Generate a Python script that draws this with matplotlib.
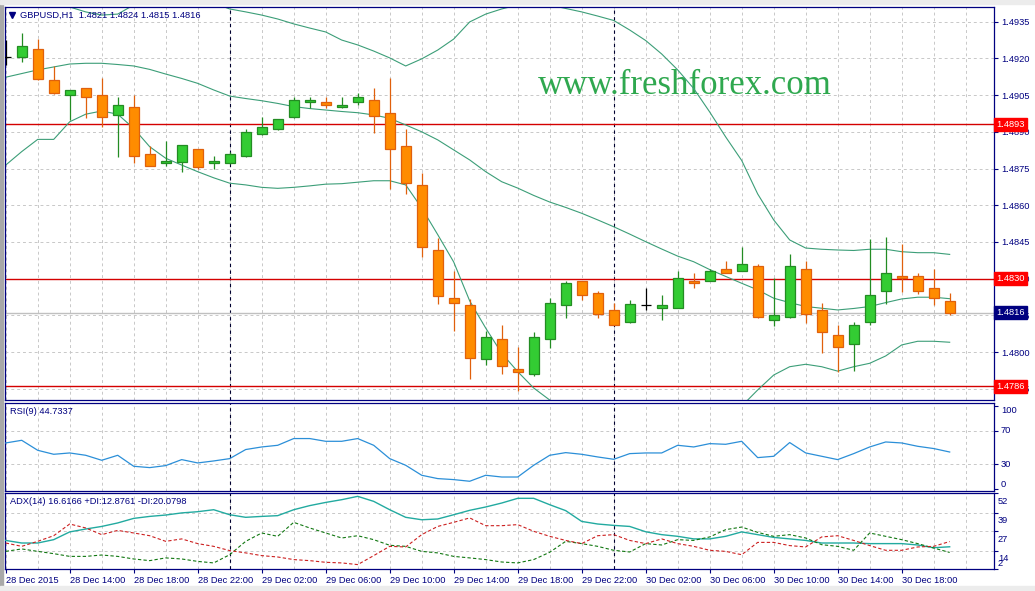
import numpy as np
import matplotlib
matplotlib.use("Agg")
import matplotlib.pyplot as plt
from matplotlib.patches import Rectangle

plt.rcParams['font.family'] = ['Liberation Sans', 'DejaVu Sans']

# ---------------- data ----------------
open_ = [1.49205, 1.49207, 1.49237, 1.49111, 1.49050, 1.49077, 1.49050, 1.48967, 1.49001, 1.48809,
         1.48772, 1.48775, 1.48828, 1.48771, 1.48771, 1.48800, 1.48889, 1.48910, 1.48959, 1.49020,
         1.49020, 1.49000, 1.49020, 1.49028, 1.48978, 1.48840, 1.48681, 1.48419, 1.48219, 1.48191,
         1.47970, 1.48054, 1.47930, 1.47909, 1.48052, 1.48191, 1.48291, 1.48240, 1.48171, 1.48122,
         1.48191, 1.48179, 1.48179, 1.48289, 1.48289, 1.48338, 1.48330, 1.48351, 1.48130, 1.48142,
         1.48338, 1.48171, 1.48069, 1.48032, 1.48122, 1.48249, 1.48310, 1.48310, 1.48261, 1.48210]
high = [1.49275, 1.49302, 1.49280, 1.49169, 1.49069, 1.49079, 1.49121, 1.49042, 1.49050, 1.48844,
        1.48864, 1.48847, 1.48831, 1.48801, 1.48819, 1.48910, 1.48962, 1.48951, 1.49043, 1.49042,
        1.49042, 1.49042, 1.49057, 1.49079, 1.49120, 1.48910, 1.48731, 1.48468, 1.48331, 1.48215,
        1.48088, 1.48112, 1.48022, 1.48081, 1.48221, 1.48291, 1.48292, 1.48249, 1.48201, 1.48212,
        1.48261, 1.48232, 1.48332, 1.48322, 1.48338, 1.48373, 1.48430, 1.48359, 1.48302, 1.48401,
        1.48373, 1.48200, 1.48111, 1.48121, 1.48461, 1.48471, 1.48443, 1.48322, 1.48338, 1.48240]
low = [1.49173, 1.49186, 1.49111, 1.49056, 1.48948, 1.48958, 1.48919, 1.48798, 1.48771, 1.48759,
       1.48761, 1.48735, 1.48749, 1.48749, 1.48770, 1.48798, 1.48888, 1.48908, 1.48957, 1.48998,
       1.48997, 1.48998, 1.49008, 1.48896, 1.48667, 1.48647, 1.48389, 1.48197, 1.48087, 1.47888,
       1.47948, 1.47910, 1.47839, 1.47901, 1.48018, 1.48141, 1.48212, 1.48141, 1.48110, 1.48120,
       1.48171, 1.48130, 1.48178, 1.48261, 1.48289, 1.48321, 1.48330, 1.48141, 1.48107, 1.48141,
       1.48120, 1.47998, 1.47919, 1.47923, 1.48110, 1.48195, 1.48247, 1.48239, 1.48191, 1.48150]
close = [1.49205, 1.49249, 1.49117, 1.49057, 1.49069, 1.49042, 1.48960, 1.49008, 1.48801, 1.48760,
         1.48782, 1.48845, 1.48757, 1.48779, 1.48809, 1.48898, 1.48919, 1.48951, 1.49030, 1.49028,
         1.49008, 1.49008, 1.49041, 1.48964, 1.48828, 1.48689, 1.48428, 1.48231, 1.48199, 1.47977,
         1.48060, 1.47943, 1.47920, 1.48061, 1.48200, 1.48281, 1.48232, 1.48157, 1.48110, 1.48198,
         1.48191, 1.48191, 1.48302, 1.48281, 1.48330, 1.48322, 1.48359, 1.48142, 1.48150, 1.48351,
         1.48157, 1.48080, 1.48020, 1.48110, 1.48232, 1.48322, 1.48302, 1.48249, 1.48220, 1.48160]

bb_upper = [1.49480, 1.49459, 1.49439, 1.49426, 1.49410, 1.49390, 1.49377, 1.49381, 1.49418, 1.49467,
            1.49480, 1.49471, 1.49455, 1.49426, 1.49402, 1.49390, 1.49377, 1.49361, 1.49341, 1.49324,
            1.49308, 1.49275, 1.49255, 1.49230, 1.49202, 1.49169, 1.49198, 1.49234, 1.49279, 1.49349,
            1.49381, 1.49402, 1.49418, 1.49426, 1.49418, 1.49404, 1.49390, 1.49373, 1.49355, 1.49316,
            1.49273, 1.49218, 1.49153, 1.49077, 1.48981, 1.48879, 1.48783, 1.48646, 1.48540, 1.48458,
            1.48425, 1.48420, 1.48417, 1.48415, 1.48420, 1.48420, 1.48410, 1.48406, 1.48406, 1.48399]
bb_middle = [1.49123, 1.49138, 1.49153, 1.49165, 1.49177, 1.49180, 1.49180, 1.49175, 1.49169, 1.49155,
             1.49136, 1.49118, 1.49098, 1.49071, 1.49046, 1.49036, 1.49027, 1.49016, 1.49003, 1.48995,
             1.48989, 1.48983, 1.48978, 1.48969, 1.48955, 1.48928, 1.48900, 1.48867, 1.48826, 1.48785,
             1.48737, 1.48696, 1.48670, 1.48640, 1.48613, 1.48591, 1.48567, 1.48540, 1.48512, 1.48482,
             1.48451, 1.48421, 1.48392, 1.48369, 1.48337, 1.48309, 1.48281, 1.48254, 1.48220, 1.48202,
             1.48186, 1.48179, 1.48172, 1.48178, 1.48186, 1.48202, 1.48217, 1.48224, 1.48224, 1.48218]
bb_lower = [1.48764, 1.48819, 1.48869, 1.48869, 1.48941, 1.48972, 1.48985, 1.48972, 1.48914, 1.48839,
            1.48792, 1.48764, 1.48737, 1.48712, 1.48690, 1.48683, 1.48673, 1.48669, 1.48673, 1.48679,
            1.48686, 1.48688, 1.48694, 1.48700, 1.48700, 1.48683, 1.48589, 1.48480, 1.48368, 1.48209,
            1.48098, 1.47995, 1.47920, 1.47853, 1.47804, 1.47777, 1.47744, 1.47706, 1.47669, 1.47649,
            1.47629, 1.47624, 1.47632, 1.47661, 1.47694, 1.47739, 1.47779, 1.47845, 1.47906, 1.47940,
            1.47950, 1.47940, 1.47922, 1.47940, 1.47954, 1.47984, 1.48029, 1.48044, 1.48044, 1.48040]

rsi = [55.6, 58.8, 46.8, 42.0, 43.6, 40.8, 34.8, 40.8, 27.6, 26.0,
       28.4, 35.6, 31.6, 34.0, 36.8, 47.7, 50.8, 52.8, 60.9, 60.9,
       57.6, 57.6, 60.9, 52.8, 36.8, 28.8, 16.8, 12.8, 11.6, 9.6,
       16.8, 14.7, 14.7, 28.8, 40.8, 44.0, 42.0, 38.8, 36.0, 42.8,
       43.6, 43.6, 52.8, 50.8, 54.8, 54.0, 57.6, 38.0, 39.6, 56.1,
       43.6, 39.6, 35.6, 42.8, 50.8, 56.8, 55.6, 51.6, 48.9, 44.73]
adx = [20.8, 19.1, 19.1, 21.3, 26.4, 28.3, 30.0, 32.3, 35.3, 36.6,
       37.5, 38.9, 39.7, 41.0, 37.7, 36.0, 36.6, 37.1, 41.0, 43.7,
       45.8, 47.6, 49.8, 46.5, 41.0, 36.0, 34.4, 34.9, 37.7, 40.6,
       42.8, 45.4, 48.5, 48.5, 44.3, 40.4, 33.3, 31.6, 30.7, 30.0,
       26.5, 24.6, 23.5, 21.8, 21.8, 23.5, 26.4, 24.6, 22.8, 21.8,
       20.8, 19.1, 19.1, 19.1, 18.7, 18.7, 18.7, 17.8, 16.0, 16.62]
plus_di = [13.6, 15.2, 13.6, 12.1, 10.3, 10.3, 11.2, 10.3, 8.6, 7.5,
           9.3, 8.6, 7.0, 6.0, 11.4, 20.2, 25.7, 23.5, 32.7, 29.0,
           25.7, 22.4, 23.9, 21.3, 17.6, 16.9, 13.6, 12.6, 10.3, 9.3,
           8.2, 6.6, 6.0, 8.2, 13.0, 20.2, 18.7, 16.9, 14.3, 13.2,
           18.7, 17.8, 21.3, 20.8, 23.1, 27.9, 29.6, 26.1, 23.5, 24.6,
           22.4, 18.0, 16.9, 14.3, 25.7, 23.5, 21.3, 18.7, 15.8, 12.88]
minus_di = [19.1, 16.9, 20.2, 23.9, 31.6, 29.0, 24.6, 27.4, 25.7, 23.9,
            20.2, 21.8, 18.7, 16.9, 14.1, 12.6, 10.8, 9.9, 8.2, 7.5,
            6.4, 6.0, 4.9, 10.8, 16.9, 16.5, 24.6, 30.0, 32.7, 35.6,
            30.5, 30.5, 31.2, 26.8, 23.5, 20.8, 18.7, 23.9, 24.6, 20.8,
            18.7, 21.8, 18.7, 16.9, 14.3, 13.6, 11.4, 19.5, 19.5, 17.4,
            16.5, 23.1, 23.9, 20.8, 17.4, 14.3, 14.3, 16.5, 16.9, 20.08]

time_labels = ["28 Dec 2015", "28 Dec 14:00", "28 Dec 18:00", "28 Dec 22:00", "29 Dec 02:00",
               "29 Dec 06:00", "29 Dec 10:00", "29 Dec 14:00", "29 Dec 18:00", "29 Dec 22:00",
               "30 Dec 02:00", "30 Dec 06:00", "30 Dec 10:00", "30 Dec 14:00", "30 Dec 18:00"]
label_bars = [0, 4, 8, 12, 16, 20, 24, 28, 32, 36, 40, 44, 48, 52, 56]
day_separators = [14, 38]
price_ticks = [1.4785, 1.4800, 1.4815, 1.4830, 1.4845, 1.4860, 1.4875, 1.4890, 1.4905, 1.4920, 1.4935]
red_levels = [1.4893, 1.4830, 1.4786]
bid_price = 1.4816
rsi_ticks = [0, 30, 70, 100]
adx_ticks = [2, 14, 27, 39, 52]

# ---------------- styling ----------------
NAVY = '#000080'
GRID = '#c8c8c8'
BULL_FILL, BULL_EDGE = '#33cc33', '#238c23'
BEAR_FILL, BEAR_EDGE = '#ff8c00', '#e0600c'
BB_COL = '#3c9e78'
FS = 6.7

W, H = 1035, 591
fig = plt.figure(figsize=(W / 100, H / 100), dpi=100)
fig.patch.set_facecolor('white')


def rect(l, t, r, b):
    return [l / W, 1 - b / H, (r - l) / W, (b - t) / H]


ax = fig.add_axes(rect(5, 7, 994, 400))
ax_rsi = fig.add_axes(rect(5, 403, 994, 491), sharex=ax)
ax_adx = fig.add_axes(rect(5, 493, 994, 569), sharex=ax)

# window frame bits
fig.add_artist(Rectangle((0, 0), 3 / W, 1, transform=fig.transFigure, color='#a8a8a8', zorder=0))
fig.add_artist(Rectangle((0, 1 - 4 / H), 1, 4 / H, transform=fig.transFigure, color='#ececec', zorder=0))
fig.add_artist(Rectangle((0, 0), 1, 5 / H, transform=fig.transFigure, color='#ececec', zorder=0))

x = np.arange(len(open_))
o = np.array(open_); h = np.array(high); l = np.array(low); c = np.array(close)

for a in (ax, ax_rsi, ax_adx):
    a.set_facecolor('white')
    for s in a.spines.values():
        s.set_color(NAVY)
        s.set_linewidth(0.9)
    for b in range(0, 62, 2):
        a.axvline(b, color=GRID, lw=0.7, ls=(0, (3, 3)), zorder=0)
    for b in day_separators:
        a.axvline(b, color='#000030', lw=0.8, ls=(0, (3, 3)), zorder=1)
    a.yaxis.tick_right()
    a.tick_params(axis='y', direction='out', length=3, width=0.8, colors=NAVY,
                  labelsize=FS, pad=2, labelcolor=NAVY)

ax.set_xlim(-0.044, 61.77)

# ---------------- main price panel ----------------
for p in price_ticks:
    ax.axhline(p, color=GRID, lw=0.7, ls=(0, (3, 3)), zorder=0)
ax.axhline(bid_price, color='#c0c0c0', lw=1.0, zorder=1)
for p in red_levels:
    ax.axhline(p, color='#d40000', lw=1.0, zorder=2)

ax.plot(x, bb_upper, color=BB_COL, lw=0.8, zorder=2)
ax.plot(x, bb_middle, color=BB_COL, lw=0.8, zorder=2)
ax.plot(x, bb_lower, color=BB_COL, lw=0.8, zorder=2)

up = c > o
dn = c < o
dj = c == o
bw = 0.62
ax.vlines(x[up], l[up], h[up], color=BULL_EDGE, lw=0.9, zorder=3)
ax.bar(x[up], c[up] - o[up], bottom=o[up], width=bw, facecolor=BULL_FILL,
       edgecolor=BULL_EDGE, lw=0.9, zorder=4)
ax.vlines(x[dn], l[dn], h[dn], color=BEAR_EDGE, lw=0.9, zorder=3)
ax.bar(x[dn], o[dn] - c[dn], bottom=c[dn], width=bw, facecolor=BEAR_FILL,
       edgecolor=BEAR_EDGE, lw=0.9, zorder=4)
ax.vlines(x[dj], l[dj], h[dj], color='black', lw=0.9, zorder=3)
ax.hlines(o[dj], x[dj] - bw / 2, x[dj] + bw / 2, color='black', lw=0.9, zorder=3)

ax.set_ylim(1.47804, 1.49410)
ax.set_yticks(price_ticks)
ax.set_yticklabels([f"{p:.4f}" for p in price_ticks])

for p in red_levels:
    ax.annotate(f"{p:.4f}", xy=(1, p), xycoords=('axes fraction', 'data'),
                xytext=(2.5, 0), textcoords='offset pixels', ha='left', va='center',
                fontsize=FS, color='white', annotation_clip=False, zorder=10,
                bbox=dict(boxstyle='square,pad=0.22', fc='#ff0000', ec='#ff0000'))
ax.annotate(f"{bid_price:.4f}", xy=(1, bid_price), xycoords=('axes fraction', 'data'),
            xytext=(2.5, 0), textcoords='offset pixels', ha='left', va='center',
            fontsize=FS, color='white', annotation_clip=False, zorder=10,
            bbox=dict(boxstyle='square,pad=0.22', fc=NAVY, ec=NAVY))

ax.plot([0.0071], [0.979], marker='v', ms=4, color=NAVY, transform=ax.transAxes, clip_on=False)
ax.text(0.0152, 0.979, "GBPUSD,H1  1.4821 1.4824 1.4815 1.4816", transform=ax.transAxes,
        ha='left', va='center', fontsize=FS, color=NAVY)
ax.text(0.6876, 0.7774, "www.freshforex.com", transform=ax.transAxes, ha='center',
        va='baseline', fontsize=25, color='#2fa84f', family='Liberation Serif', zorder=1)

ax.tick_params(axis='x', length=0, labelbottom=False)

# ---------------- RSI panel ----------------
for v in (30, 70):
    ax_rsi.axhline(v, color=GRID, lw=0.7, ls=(0, (3, 3)), zorder=0)
ax_rsi.plot(x, rsi, color='#2b8fd8', lw=0.9, zorder=3)
ax_rsi.set_ylim(-2.1, 103.6)
ax_rsi.set_yticks(rsi_ticks)
ax_rsi.set_yticklabels([str(v) for v in rsi_ticks])
for lab, va in zip(ax_rsi.get_yticklabels(), ['bottom', 'center', 'center', 'top']):
    lab.set_va(va)
ax_rsi.tick_params(axis='x', length=0, labelbottom=False)
ax_rsi.text(0.005, 0.90, "RSI(9) 44.7337", transform=ax_rsi.transAxes, ha='left',
            va='center', fontsize=FS, color=NAVY)

# ---------------- ADX panel ----------------
for v in (14, 27, 39):
    ax_adx.axhline(v, color=GRID, lw=0.7, ls=(0, (3, 3)), zorder=0)
ax_adx.plot(x, adx, color='#22aaa0', lw=1.0, zorder=3)
ax_adx.plot(x, plus_di, color='#117711', lw=0.8, ls=(0, (3, 2)), zorder=3)
ax_adx.plot(x, minus_di, color='#cc2020', lw=0.8, ls=(0, (3, 2)), zorder=3)
ax_adx.set_ylim(2, 52)
ax_adx.set_yticks(adx_ticks)
ax_adx.set_yticklabels([])
for v in adx_ticks:
    dy = 6 if v == 2 else -8
    ax_adx.annotate(str(v), xy=(1, v), xycoords=('axes fraction', 'data'),
                    xytext=(4, dy), textcoords='offset pixels', ha='left', va='center',
                    fontsize=FS, color=NAVY, annotation_clip=False)
ax_adx.text(0.005, 0.882, "ADX(14) 16.6166 +DI:12.8761 -DI:20.0798", transform=ax_adx.transAxes,
            ha='left', va='center', fontsize=FS, color=NAVY)

ax_adx.set_xticks(label_bars)
ax_adx.set_xticklabels(time_labels)
ax_adx.tick_params(axis='x', direction='out', length=3, width=0.8, colors=NAVY,
                   labelsize=FS, pad=2, labelcolor=NAVY)
plt.setp(ax_adx.get_xticklabels(), ha='left')
ax_adx.set_xlim(-0.044, 61.77)

fig.savefig('out.png', dpi=100, facecolor=fig.get_facecolor())
